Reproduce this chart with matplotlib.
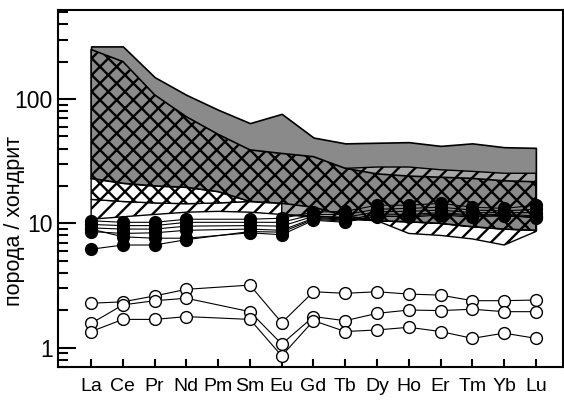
import numpy as np
import matplotlib
matplotlib.use("Agg")
import matplotlib.pyplot as plt
from matplotlib.ticker import LogLocator, NullFormatter, FixedLocator, FixedFormatter

plt.rcParams['font.family'] = ['Liberation Sans', 'DejaVu Sans']
plt.rcParams['hatch.linewidth'] = 1.7

### Data ###
elements = ['La', 'Ce', 'Pr', 'Nd', 'Pm', 'Sm', 'Eu', 'Gd', 'Tb', 'Dy', 'Ho', 'Er', 'Tm', 'Yb', 'Lu']
# samples have no Pm
sample_elements = ['La', 'Ce', 'Pr', 'Nd', 'Sm', 'Eu', 'Gd', 'Tb', 'Dy', 'Ho', 'Er', 'Tm', 'Yb', 'Lu']

# fields (all 15 elements)
gray_top = [265, 265, 150, 108, 82, 64, 76, 49, 44, 44.5, 45, 42, 44, 41, 40.5]
xh_top = [250, 200, 108, 72, 52, 39, 36.5, 34.4, 27.7, 25, 24, 23.5, 23, 22, 21.6]
xh_bot = [23, 21, 20, 19.5, 18, 15, 14.5, 13.5, 11.5, 10.5, 10.3, 10, 9.4, 9, 8.8]
# white cross-hatch field, La..Sm
wxh_bot = [15.6, 15, 14.6, 14.4, 14.6, 15]
# white diagonal field, La..Lu
wdiag_top = [15.6, 15, 14.6, 14.4, 14.6, 15, 14.5, 13.5, 11.5, 10.5, 10.3, 10, 9.4, 9, 8.8]
wdiag_bot = [10.8, 11.3, 11.8, 12.3, 12.5, 12.3, 11.8, 11.2, 10.8, 10.5, 8.3, 8.0, 7.5, 6.7, 8.6]
# gray diagonal field, Eu..Lu
gdiag_top = [14.5, 14.5, 27.7, 28.4, 28.4, 27, 26.2, 25.3, 25.3]
gdiag_bot = [11.8, 11.5, 11, 10.5, 10.3, 10, 9.4, 9, 8.8]

# filled circles
filled = [
    [10.5, 10.2, 10.2, 10.8, 10.8, 11.0, 12.3, 12.5, 14.0, 14.0, 14.5, 13.5, 13.2, 14.0],
    [9.8, 9.6, 9.6, 10.2, 10.2, 10.2, 11.8, 11.8, 13.0, 13.2, 13.5, 12.8, 12.6, 13.0],
    [9.2, 9.0, 9.0, 9.5, 9.6, 9.5, 11.4, 11.2, 12.4, 12.5, 12.8, 12.2, 12.2, 12.2],
    [8.6, 8.3, 8.4, 8.8, 9.0, 8.8, 11.0, 10.6, 11.9, 11.8, 12.2, 11.7, 11.8, 11.5],
    [9.0, 7.8, 7.6, 7.6, 8.4, 8.1, 10.6, 10.2, 11.6, 11.2, 11.7, 11.2, 11.7, 11.0],
    [6.2, 6.7, 6.7, 7.4, 8.6, 8.5, 10.8, 10.4, 11.3, 11.5, 11.9, 11.5, 11.4, 11.3],
]
# open circles
opened = [
    [2.28, 2.34, 2.61, 2.95, 3.19, 1.59, 2.82, 2.74, 2.82, 2.70, 2.65, 2.39, 2.39, 2.42],
    [1.57, 2.21, 2.39, 2.50, 1.95, 1.07, 1.78, 1.65, 1.89, 2.01, 1.99, 2.04, 1.95, 1.95],
    [1.35, 1.69, 1.69, 1.78, 1.69, 0.86, 1.65, 1.35, 1.39, 1.46, 1.35, 1.19, 1.31, 1.19],
]

x = np.arange(len(elements))
xs = np.array([elements.index(e) for e in sample_elements])

### Plot ###
fig = plt.figure(figsize=(5.64, 4.0), dpi=100)
ax = fig.add_axes([0.103, 0.0825, 0.895, 0.8925])

ax.fill_between(x, xh_bot, gray_top, facecolor='#8a8a8a', edgecolor='k', lw=1.2, zorder=1)
ax.fill_between(x, wdiag_bot, wdiag_top, facecolor='white', edgecolor='k', hatch='//', lw=1.0, zorder=2)
ax.fill_between(x[:6], wxh_bot, xh_bot[:6], facecolor='white', edgecolor='k', hatch='xx', lw=1.0, zorder=3)
ax.fill_between(x[6:], gdiag_bot, gdiag_top, facecolor='#a8a8a8', edgecolor='k', hatch='//', lw=1.0, zorder=4)
ax.fill_between(x, xh_bot, xh_top, facecolor='#8a8a8a', edgecolor='k', hatch='xx', lw=1.2, zorder=5)

for s in filled:
    ax.plot(xs, s, '-o', color='k', lw=0.8, ms=8.5, zorder=6)
for s in opened:
    ax.plot(xs, s, '-o', color='k', lw=0.8, ms=8.5, mfc='white', mec='k', mew=1.0, zorder=7)

ax.set_yscale('log')
ax.set_ylim(0.7, 520)
ax.set_xlim(-1.04, 14.85)

ax.yaxis.set_major_locator(FixedLocator([1, 10, 100]))
ax.yaxis.set_major_formatter(FixedFormatter(['1', '10', '100']))
ax.yaxis.set_minor_locator(LogLocator(base=10, subs=np.arange(2, 10), numticks=20))
ax.yaxis.set_minor_formatter(NullFormatter())
ax.tick_params(axis='y', which='major', direction='in', length=13, width=1.5, labelsize=16.5, pad=4)
ax.tick_params(axis='y', which='minor', direction='in', length=7, width=1.5)

ax.set_xticks(x)
ax.set_xticklabels(elements)
ax.tick_params(axis='x', direction='in', length=6, width=1.5, labelsize=14, pad=8)

for sp in ax.spines.values():
    sp.set_linewidth(1.5)

ax.set_ylabel('порода / хондрит', fontsize=15.5)
ax.yaxis.set_label_coords(-0.066, 0.41)

fig.savefig('out.png', dpi=100)
